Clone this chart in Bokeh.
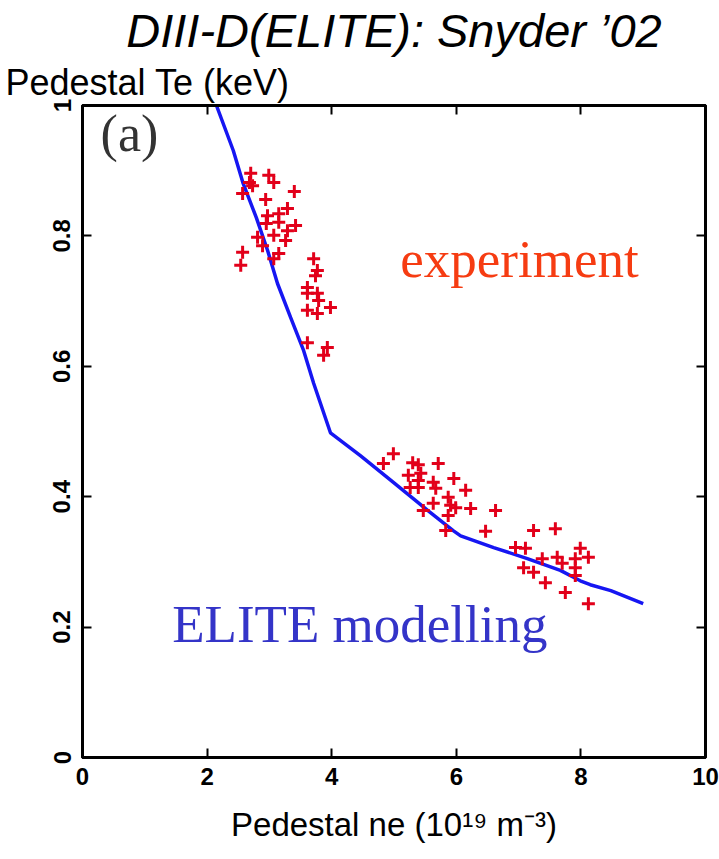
from bokeh.plotting import figure
from bokeh.models import Range1d, LinearAxis, Title, Label, FixedTicker
from bokeh.embed import file_html
from bokeh.resources import INLINE

# ---------------- data ----------------
title_text = "DIII-D(ELITE): Snyder \u201902"
y_label = "Pedestal Te (keV)"
x_label = "Pedestal ne (10\u00b9\u2079 m\u207b\u00b3)"

x_ticks = [0, 2, 4, 6, 8, 10]
x_tick_labels = ["0", "2", "4", "6", "8", "10"]
y_ticks = [0, 0.2, 0.4, 0.6, 0.8, 1.0]
y_tick_labels = ["0", "0.2", "0.4", "0.6", "0.8", "1"]

# ELITE stability boundary (ne in 1e19 m^-3, Te in keV)
elite_ne = [2.15, 2.42, 2.58, 2.79, 2.97, 3.13, 3.34, 3.55, 3.71, 3.98,
            4.46, 4.99, 5.54, 5.95, 6.07, 6.60, 7.14, 7.67, 7.99, 8.15, 8.48, 9.00]
elite_te = [1.000, 0.931, 0.880, 0.828, 0.778, 0.727, 0.675, 0.624, 0.574, 0.498,
            0.463, 0.422, 0.379, 0.348, 0.340, 0.322, 0.305, 0.287, 0.271, 0.265, 0.256, 0.236]

# experimental pedestal points
exp_ne = [2.70, 2.68, 2.73, 2.99, 3.07, 2.57, 3.40, 2.94, 3.29, 2.97, 3.15, 2.95,
          3.15, 3.42, 3.29, 2.81, 3.07, 3.26, 2.89, 3.15, 2.57, 2.54, 3.07,
          3.71, 3.77, 3.74, 3.61, 3.61, 3.77, 3.79, 3.98, 3.61, 3.77, 3.61, 3.93, 3.87,
          4.99, 4.83, 5.30, 5.39, 5.71, 5.23, 5.43, 5.39, 5.63, 5.96, 5.26, 5.39, 5.67,
          6.15, 5.87, 5.63, 5.91, 5.99, 6.23, 5.47, 5.87, 5.83,
          6.63, 6.47, 7.24, 7.59, 6.95, 7.11, 7.38, 7.62, 7.70, 7.99, 7.91, 8.12,
          7.08, 7.24, 7.91, 7.91, 7.43, 7.75, 8.12]
exp_te = [0.896, 0.882, 0.877, 0.893, 0.882, 0.865, 0.868, 0.856, 0.842, 0.831, 0.834, 0.819,
          0.821, 0.816, 0.808, 0.798, 0.801, 0.793, 0.785, 0.773, 0.775, 0.755, 0.765,
          0.765, 0.747, 0.739, 0.721, 0.712, 0.712, 0.701, 0.690, 0.686, 0.681, 0.636, 0.629, 0.617,
          0.466, 0.451, 0.452, 0.449, 0.451, 0.433, 0.436, 0.425, 0.422, 0.428, 0.414, 0.414, 0.413,
          0.410, 0.399, 0.390, 0.387, 0.383, 0.382, 0.379, 0.371, 0.348,
          0.379, 0.347, 0.348, 0.351, 0.322, 0.321, 0.305, 0.307, 0.298, 0.321, 0.305, 0.307,
          0.291, 0.284, 0.291, 0.279, 0.268, 0.253, 0.236]

# ---------------- figure ----------------
p = figure(width=719, height=859, x_range=Range1d(0, 10), y_range=Range1d(0, 1),
           output_backend="svg", toolbar_location=None, title=None,
           min_border_left=82, min_border_right=14, min_border_top=105, min_border_bottom=102)
p.grid.visible = False
p.background_fill_color = "white"
p.border_fill_color = "white"
p.outline_line_color = "black"
p.outline_line_width = 3

TICK_FONT = "Liberation Sans"


def style_axis(ax):
    ax.axis_line_width = 3
    ax.axis_line_color = "black"
    ax.major_tick_in = 9
    ax.major_tick_out = 0
    ax.major_tick_line_width = 2
    ax.minor_tick_line_color = None
    ax.major_label_text_font = TICK_FONT
    ax.major_label_text_font_style = "bold"
    ax.major_label_text_font_size = "24px"
    ax.major_label_text_color = "black"


xa = p.xaxis[0]
style_axis(xa)
xa.ticker = FixedTicker(ticks=x_ticks)
xa.major_label_overrides = dict(zip(x_ticks, x_tick_labels))
xa.major_label_standoff = 10
xa.axis_label = x_label
xa.axis_label_text_font = "Liberation Sans"
xa.axis_label_text_font_style = "normal"
xa.axis_label_text_font_size = "33px"
xa.axis_label_text_color = "black"
xa.axis_label_standoff = 18

ya = p.yaxis[0]
style_axis(ya)
ya.ticker = FixedTicker(ticks=y_ticks)
ya.major_label_overrides = dict(zip(y_ticks, y_tick_labels))
ya.major_label_orientation = "vertical"
ya.major_label_standoff = 12

top = LinearAxis(ticker=FixedTicker(ticks=x_ticks))
style_axis(top)
top.major_label_text_font_size = "1px"
top.major_label_text_color = None
top.major_label_standoff = 0
p.add_layout(top, "above")

right = LinearAxis(ticker=FixedTicker(ticks=y_ticks))
style_axis(right)
right.major_label_text_font_size = "1px"
right.major_label_text_color = None
right.major_label_standoff = 0
p.add_layout(right, "right")

p.add_layout(Title(text=y_label, align="left", offset=-77, text_font="Liberation Sans",
                   text_font_style="normal", text_font_size="36px", text_color="black",
                   standoff=6), "above")
p.add_layout(Title(text=title_text, align="center", text_font="Liberation Sans",
                   text_font_style="italic", text_font_size="47px", text_color="black",
                   standoff=0), "above")

# ---------------- glyphs ----------------
p.line(elite_ne, elite_te, line_color="#1616f2", line_width=3.5)
p.scatter(exp_ne, exp_te, marker="cross", size=13, line_color="#e2001a", line_width=3)

# ---------------- in-plot texts ----------------
p.add_layout(Label(x=0.29, y=0.913, text="(a)", text_font="Liberation Serif",
                   text_font_size="52px", text_color="#333333"))
p.add_layout(Label(x=5.10, y=0.72, text="experiment", text_font="Liberation Serif",
                   text_font_size="53px", text_color="#f63c12"))
p.add_layout(Label(x=1.44, y=0.16, text="ELITE modelling", text_font="Liberation Serif",
                   text_font_size="53px", text_color="#3434c8"))

open("out.html", "w").write(file_html(p, INLINE))
